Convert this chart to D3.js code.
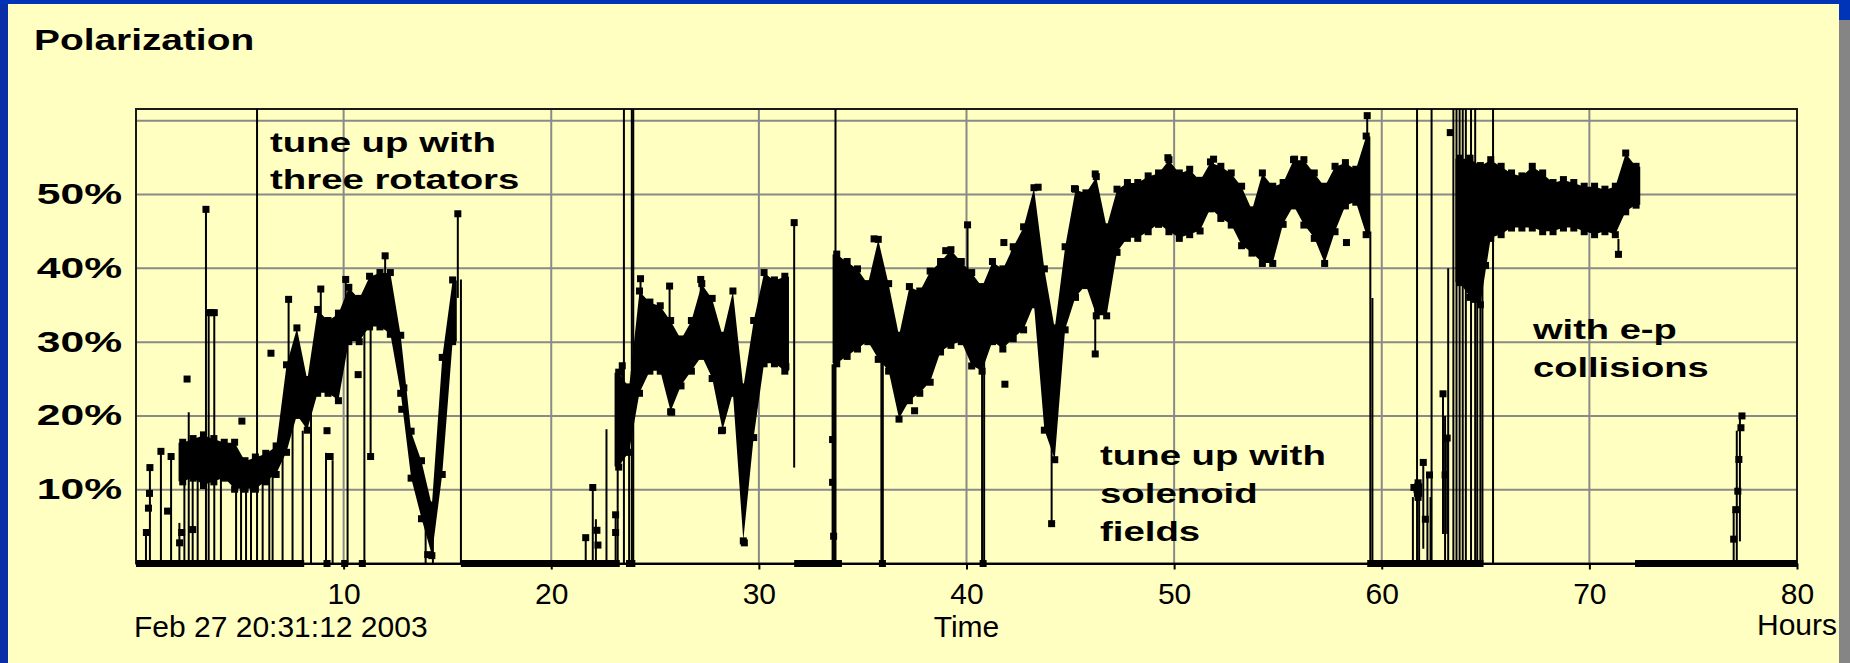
<!DOCTYPE html>
<html>
<head>
<meta charset="utf-8">
<script src="https://cdn.jsdelivr.net/npm/d3@7"></script>
<style>
body{margin:0;background:#ffffc1;}
svg{display:block;}
text{font-family:"Liberation Sans",Arial,sans-serif;fill:#000;}
</style>
</head>
<body>
<svg id="chart"></svg>
<script>
// ---- values ----
var xTicks = [10,20,30,40,50,60,70,80];
var xGrid = [10,20,30,40,50,60,70];
var yTicks = [10,20,30,40,50];
var yGrid = [10,20,30,40,50,60];

// dense part of the scan: half hour bins, lowest and highest polarization (%)
var binHour = [2,2.5,3,3.5,4,4.5,5,5.5,6,6.5,7,7.5,8,8.5,9,9.5,10,10.5,11,11.5,12,12.5,13,13.5,14,14.5,15,
  23,23.5,24,24.5,25,25.5,26,26.5,27,27.5,28,28.5,29,29.5,30,30.5,31,
  33.5,34,34.5,35,35.5,36,36.5,37,37.5,38,38.5,39,39.5,40,40.5,41,41.5,42,42.5,43,43.5,44,44.5,45,45.5,46,46.5,47,47.5,
  48,48.5,49,49.5,50,50.5,51,51.5,52,52.5,53,53.5,54,54.5,55,55.5,56,56.5,57,57.5,58,58.5,59,
  61.5,63.5,64,64.5,
  65,65.5,66,66.5,67,67.5,68,68.5,69,69.5,70,70.5,71,71.5,72];
var binLow = [11,11.5,10.5,11,11.5,10,10,10,11,12,15,20,18,23,23,22,30,30,32,32,31,23,11.5,6,1,12,30,
  13,15,23,26,26,20.5,24,26,28,25,18,23,3,17,27,27,26,
  27,28,29,30,27.6,26,19.5,22,23,24.5,28.6,29.5,30,26.7,26,30,29,30.4,31.6,35,18,14,31.6,36,37.6,33.5,33.5,42.1,44,
  44,44.9,45.9,44.9,44,44.5,45,48,46.7,45.8,43,42,40.6,40.6,45.9,48.4,45.8,44,40.6,44.9,48.4,48.9,44.5,
  8.9,38,36,35,
  44,44.5,45.4,45.4,45.4,44.9,44.9,45.4,45.4,44.9,44.5,44.9,44.5,47.6,48.5];
var binHigh = [16.5,17,17.5,17,16.5,16.5,14,14.5,15,16,27,32,25,34.5,33,34,37.5,36,39,39.5,39.5,31,18,14,8,28,38.5,
  26,24,37,35.5,35,33,30.5,33,38,36,31,37,24,33,39.5,38.5,39,
  42,41,40,38,44,38,31,37.6,37,39.7,41,42.6,41,39.5,37.6,41,40,43,45.7,51,40,32,43,50.8,50.3,52.5,45.7,50.8,51.7,
  51.7,52.6,53,54.8,53,53.5,52,54.5,53.9,53,51.2,48,53,51.2,51.7,54.8,54.8,53,51.2,53.9,54.4,53.5,58,
  11,55,55,54,
  54.8,53.9,53,52.6,53.9,53,51.7,52.1,51.7,51.2,51.2,50.8,51.2,55.7,53.9];

// single jumps between samples (hour, from %, to %)
var lineHour = [0.48,0.67,1.2,1.69,2.09,2.33,2.54,2.73,2.97,3.37,3.5,3.77,4.09,4.82,5.06,5.3,5.54,6.1,6.42,6.58,7.06,7.35,7.54,8.03,8.43,8.9,9.15,9.47,10.1,10.19,11.0,11.3,12.0,13.95,14.3,15.5,15.65,
  21.66,22.0,22.15,22.66,23.1,23.2,23.42,23.75,24.3,25.7,27.2,31.7,
  33.55,33.62,35.9,35.97,40.05,40.75,40.85,44.1,46.2,
  59.3,59.45,59.55,61.5,61.8,62.0,62.2,62.35,62.95,63.05,63.15,63.2,64.6,64.75,64.85,71.4,
  76.95,77.1,77.25];
var lineFrom = [0,0,0,0,0,0,0,0,0,0,0,0,0,0,0,0,0,0,0,0,0,20,0,0,0,30,0,0,34,0,0,14.5,38,0,0,36,0,
  0,0,0,0,0,0,20,0,34,32,35,13,
  0,0,0,0,38,0,0,5.4,28.4,
  50,0,0,0,0,2,0,0,4,0,4,0,0,0,0,44,
  0,0,3];
var lineTo = [4,13,15.2,14.5,5.5,14,20.5,13,12,48,34,34,12,11,11,10,11,11,12,13,16,35.8,20,18,24,37.2,15,14,38.5,30,32,32,41.7,6,7,47.4,38.5,
  3.5,10.3,6,18.2,6.6,14,26.8,16,38.6,37.6,38.5,46.2,
  27,27,28,28,45.9,28,28,20,40,
  60.7,45,36,9,9,13.7,12,9,23,20,17,40,36,38,40,41.9,
  7,18,20];

// samples that run off the top of the plot
var topHour = [5.83,23.5,23.88,23.95,33.69,61.7,62.4,63.45,63.6,63.75,63.9,64.05,64.3,64.5,65.36];

// stand-alone samples (hour, %)
var dotHour = [0.5,0.6,0.65,0.67,1.2,1.52,1.69,2.1,2.2,2.46,2.73,3.37,3.5,3.63,3.77,5.1,6.5,7.35,8.9,9.2,9.35,10.1,10.7,11.3,12.0,12.8,12.9,14.05,14.3,15.5,
  21.66,22.0,22.2,22.25,23.1,23.1,23.42,24.3,25.7,25.8,27.2,28.2,29.3,31.3,31.7,
  33.55,33.55,33.6,35.55,37.5,39.0,40.05,41.8,41.85,42.3,43.45,44.1,45.2,46.2,46.2,
  49.7,51.9,55.8,58.3,59.3,61.55,61.7,62.0,62.1,62.3,62.95,63.05,63.15,63.3,64.5,65.0,
  71.4,76.95,77.05,77.15,77.2,77.3,77.35,
  9.2,10.05,10.9,35.95,40.8];
var dotValue = [4.2,7.5,9.5,13,15.2,7.1,14.5,2.8,4.2,25,4.6,48,34,34,34,19.3,28.5,35.8,37.2,18,14.5,38.5,25.6,14.5,41.7,20.9,23.8,1.2,7,47.4,
  3.5,10.3,4.5,2.5,6.6,4.2,26.8,38.6,37.6,20.5,38.5,18,2.8,26.7,46.2,
  16.8,11,3.7,44,20.7,42.4,45.9,43.5,24.3,42,51,5.4,50.8,52.8,28.4,
  55,54.8,54.8,43.5,60.7,10.3,10,13.7,6,12,23,12,17,58.4,35.8,40.4,
  41.9,3.3,7.3,9.8,14.1,18.4,20,
  0,0,0,0,0];

// stretches with no polarization (reads 0)
var zeroFrom = [0,15.65,23.6,31.7,59.3,72.2];
var zeroTo = [8.1,23.3,24.05,34.0,64.9,80];

// ---- drawing ----
var width = 1850, height = 663;
var svg = d3.select("#chart").attr("width", width).attr("height", height);

var x = d3.scaleLinear().domain([0,80]).range([136,1797]);
var y = d3.scaleLinear().domain([0,61.6]).range([563.5,109]);

// slide background
svg.append("rect").attr("width",width).attr("height",height).attr("fill","#ffffc1");
svg.append("rect").attr("x",0).attr("y",0).attr("width",8).attr("height",height).attr("fill","#0a2ea8");
svg.append("rect").attr("x",0).attr("y",0).attr("width",width).attr("height",4).attr("fill","#0034b8");
svg.append("rect").attr("x",1839).attr("y",0).attr("width",11).attr("height",height).attr("fill","#858585");
svg.append("rect").attr("x",1839).attr("y",0).attr("width",11).attr("height",20).attr("fill","#0034b8");

// grid
var grid = svg.append("g").attr("stroke","#8a8a8a").attr("stroke-width",2);
grid.selectAll(".hg").data(yGrid).enter().append("line")
  .attr("x1",x(0)).attr("x2",x(80))
  .attr("y1",function(d){return y(d);}).attr("y2",function(d){return y(d);});
grid.selectAll(".vg").data(xGrid).enter().append("line")
  .attr("x1",function(d){return x(d);}).attr("x2",function(d){return x(d);})
  .attr("y1",y(0)).attr("y2",y(61.6));

// frame
svg.append("rect")
  .attr("x",x(0)).attr("y",y(61.6))
  .attr("width",x(80)-x(0)).attr("height",y(0)-y(61.6))
  .attr("fill","none").attr("stroke","#1a1a1a").attr("stroke-width",2);

// x axis
var xAxis = d3.axisBottom(x).tickValues(xTicks).tickSizeInner(6).tickSizeOuter(0).tickPadding(13)
  .tickFormat(d3.format("d"));
var gx = svg.append("g").attr("transform","translate(0,"+y(0)+")").call(xAxis);
gx.select(".domain").attr("stroke","#000").attr("stroke-width",2);
gx.selectAll(".tick line").attr("stroke","#000").attr("stroke-width",2);
gx.selectAll(".tick text").attr("font-size",30).attr("font-family","Liberation Sans, Arial, sans-serif").attr("fill","#000");

// data
var plot = svg.append("g");

plot.selectAll(".zero").data(zeroFrom).enter().append("rect")
  .attr("x",function(d){return x(d);})
  .attr("width",function(d,i){return x(zeroTo[i])-x(d);})
  .attr("y",y(0)-3.5).attr("height",7)
  .attr("fill","#000");

plot.selectAll(".top").data(topHour).enter().append("line")
  .attr("x1",function(d){return x(d);}).attr("x2",function(d){return x(d);})
  .attr("y1",y(0)).attr("y2",y(61.6))
  .attr("stroke","#000").attr("stroke-width",2);

plot.selectAll(".jump").data(lineHour).enter().append("line")
  .attr("x1",function(d){return x(d);}).attr("x2",function(d){return x(d);})
  .attr("y1",function(d,i){return y(lineFrom[i]);})
  .attr("y2",function(d,i){return y(lineTo[i]);})
  .attr("stroke","#000").attr("stroke-width",2);

// group the bins into unbroken runs and fill each as one band
var runs = [];
var cur = [];
binHour.forEach(function(h,i){
  if(cur.length && h - binHour[i-1] > 0.51){ runs.push(cur); cur = []; }
  cur.push({h:h, lo:binLow[i], hi:binHigh[i]});
});
if(cur.length) runs.push(cur);

var band = d3.area()
  .x(function(d){return x(d.t);})
  .y0(function(d){return y(d.lo)-1;})
  .y1(function(d){return y(d.hi)+1;});

runs.forEach(function(run){
  var pts = [{t:run[0].h+0.05, lo:run[0].lo, hi:run[0].hi}];
  run.forEach(function(b){ pts.push({t:b.h+0.25, lo:b.lo, hi:b.hi}); });
  var last = run[run.length-1];
  pts.push({t:last.h+0.45, lo:last.lo, hi:last.hi});
  plot.append("path").datum(pts).attr("d",band).attr("fill","#000");
});

// sample squares on the edges of the band
plot.selectAll(".bhi").data(binHour).enter().append("rect")
  .attr("x",function(d){return x(d+0.25)-3.5;})
  .attr("y",function(d,i){return y(binHigh[i])-3;})
  .attr("width",7).attr("height",7).attr("fill","#000");
plot.selectAll(".blo").data(binHour).enter().append("rect")
  .attr("x",function(d){return x(d+0.25)-3.5;})
  .attr("y",function(d,i){return y(binLow[i])-4;})
  .attr("width",7).attr("height",7).attr("fill","#000");

plot.selectAll(".dot").data(dotHour).enter().append("rect")
  .attr("x",function(d){return x(d)-3.5;})
  .attr("y",function(d,i){return y(dotValue[i])-3.5;})
  .attr("width",7).attr("height",7)
  .attr("fill","#000");

// y labels (bold, drawn wide like the slide)
svg.selectAll(".ylab").data(yTicks).enter().append("text")
  .attr("transform",function(d){return "translate(122,"+(y(d)+9.5)+") scale(1.42,1)";})
  .attr("text-anchor","end")
  .attr("font-size",30).attr("font-weight","bold")
  .text(function(d){return d+"%";});

var wideText = function(str,px,py,size,sx){
  svg.append("text")
    .attr("transform","translate("+px+","+py+") scale("+sx+",1)")
    .attr("font-size",size).attr("font-weight","bold")
    .text(str);
};

wideText("Polarization",34,50,29,1.34);
wideText("tune up with",270,152,28,1.37);
wideText("three rotators",270,189,28,1.37);
wideText("tune up with",1100,465,28,1.37);
wideText("solenoid",1100,503,28,1.37);
wideText("fields",1100,541,28,1.37);
wideText("with e-p",1533,339,28,1.36);
wideText("collisions",1533,377,28,1.36);

// axis captions
svg.append("text").attr("x",134).attr("y",637).attr("font-size",30).text("Feb 27 20:31:12 2003");
svg.append("text").attr("x",x(40)).attr("y",637).attr("font-size",30).attr("text-anchor","middle").text("Time");
svg.append("text").attr("x",1837).attr("y",635).attr("font-size",30).attr("text-anchor","end").text("Hours");
</script>
</body>
</html>
